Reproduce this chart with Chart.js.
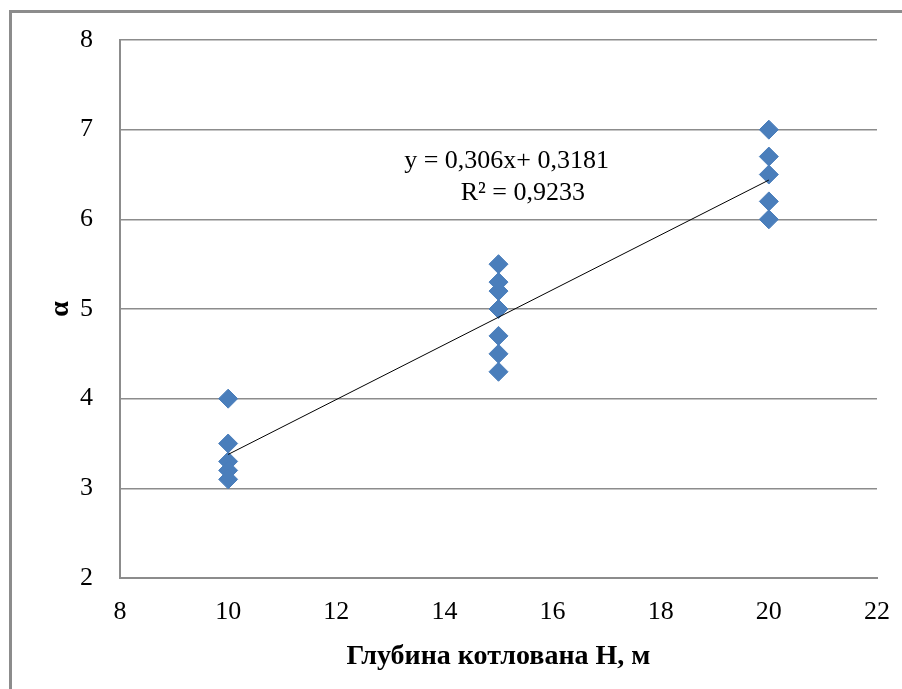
<!DOCTYPE html>
<html>
<head>
<meta charset="utf-8">
<script src="https://cdn.jsdelivr.net/npm/chart.js@4/dist/chart.umd.min.js"></script>
<style>
  html, body { margin: 0; padding: 0; background: #fff; }
  #wrap { position: relative; width: 902px; height: 689px; overflow: hidden; }
  #frame { position: absolute; left: 9px; top: 10px; width: 900px; height: 700px;
           border-left: 3px solid #8c8c8c; border-top: 3px solid #8c8c8c; }
  canvas { position: absolute; left: 0; top: 0; }
</style>
</head>
<body>
<div id="wrap">
  <div id="frame"></div>
  <canvas id="chart" width="902" height="689"></canvas>
</div>
<script>
// measured points, depth H (m) vs alpha
const depth10 = [4.0, 3.5, 3.3, 3.2, 3.1];
const depth15 = [5.5, 5.3, 5.2, 5.0, 4.7, 4.5, 4.3];
const depth20 = [7.0, 6.7, 6.5, 6.2, 6.0];
const depths = [10, 15, 20];

// trend line as printed on the chart
const slope = 0.306;
const intercept = 0.3181;
const trendX = [10, 20];
const equationText = 'y = 0,306x+ 0,3181';
const r2Text = 'R² = 0,9233';

const xTicks = [8, 10, 12, 14, 16, 18, 20, 22];
const yTicks = [2, 3, 4, 5, 6, 7, 8];

const points = [];
[depth10, depth15, depth20].forEach((vals, i) => {
    vals.forEach(v => points.push({ x: depths[i], y: v }));
});
const trendPoints = trendX.map(x => ({ x: x, y: slope * x + intercept }));

const serif = "'Liberation Serif', 'Times New Roman', serif";

const equationLabel = {
    id: 'equationLabel',
    afterDatasetsDraw(chart) {
        const ctx = chart.ctx;
        const xs = chart.scales.x, ys = chart.scales.y;
        ctx.save();
        ctx.fillStyle = '#000';
        ctx.font = '26px ' + serif;
        ctx.textAlign = 'center';
        ctx.textBaseline = 'middle';
        ctx.fillText(equationText, xs.getPixelForValue(15.15), ys.getPixelForValue(6.65));
        ctx.fillText(r2Text, xs.getPixelForValue(15.45), ys.getPixelForValue(6.29));
        ctx.restore();
    }
};

new Chart(document.getElementById('chart').getContext('2d'), {
    type: 'scatter',
    data: {
        datasets: [{
            label: 'alpha',
            data: points,
            pointStyle: 'rectRot',
            pointRadius: 9.5,
            pointHoverRadius: 9.5,
            backgroundColor: '#4a7ebb',
            borderColor: '#4a7ebb',
            borderWidth: 1,
            order: 2
        }, {
            type: 'line',
            label: 'trend',
            data: trendPoints,
            borderColor: '#000',
            borderWidth: 1,
            pointRadius: 0,
            fill: false,
            order: 1
        }]
    },
    options: {
        responsive: false,
        animation: false,
        layout: { padding: { left: 0, top: 40, right: 25, bottom: 0 } },
        plugins: { legend: { display: false }, tooltip: { enabled: false } },
        scales: {
            x: {
                type: 'linear',
                min: 8, max: 22,
                afterFit(scale) {
                    scale.height = 111;
                    scale.paddingLeft = 0;
                    scale.paddingRight = 0;
                },
                afterBuildTicks(scale) { scale.ticks = xTicks.map(v => ({ value: v })); },
                grid: { display: false, drawTicks: false },
                border: { display: true, color: '#8c8c8c', width: 2 },
                ticks: { color: '#000', font: { family: serif, size: 26 }, padding: 19 },
                title: {
                    display: true,
                    text: 'Глубина котлована H, м',
                    color: '#000',
                    font: { family: serif, size: 28, weight: 'bold' },
                    padding: { top: 12, bottom: 15 }
                }
            },
            y: {
                min: 2, max: 8,
                afterFit(scale) {
                    scale.width = 120;
                    scale.paddingTop = 0;
                    scale.paddingBottom = 0;
                },
                afterBuildTicks(scale) { scale.ticks = yTicks.map(v => ({ value: v })); },
                grid: { color: '#8c8c8c', lineWidth: 1.5, drawTicks: false },
                border: { display: true, color: '#8c8c8c', width: 2 },
                ticks: { color: '#000', font: { family: serif, size: 26 }, padding: 27 },
                title: {
                    display: true,
                    text: 'α',
                    color: '#000',
                    font: { family: serif, size: 28, weight: 'bold' },
                    padding: { top: 44, bottom: 0 }
                }
            }
        }
    },
    plugins: [equationLabel]
});
</script>
</body>
</html>
